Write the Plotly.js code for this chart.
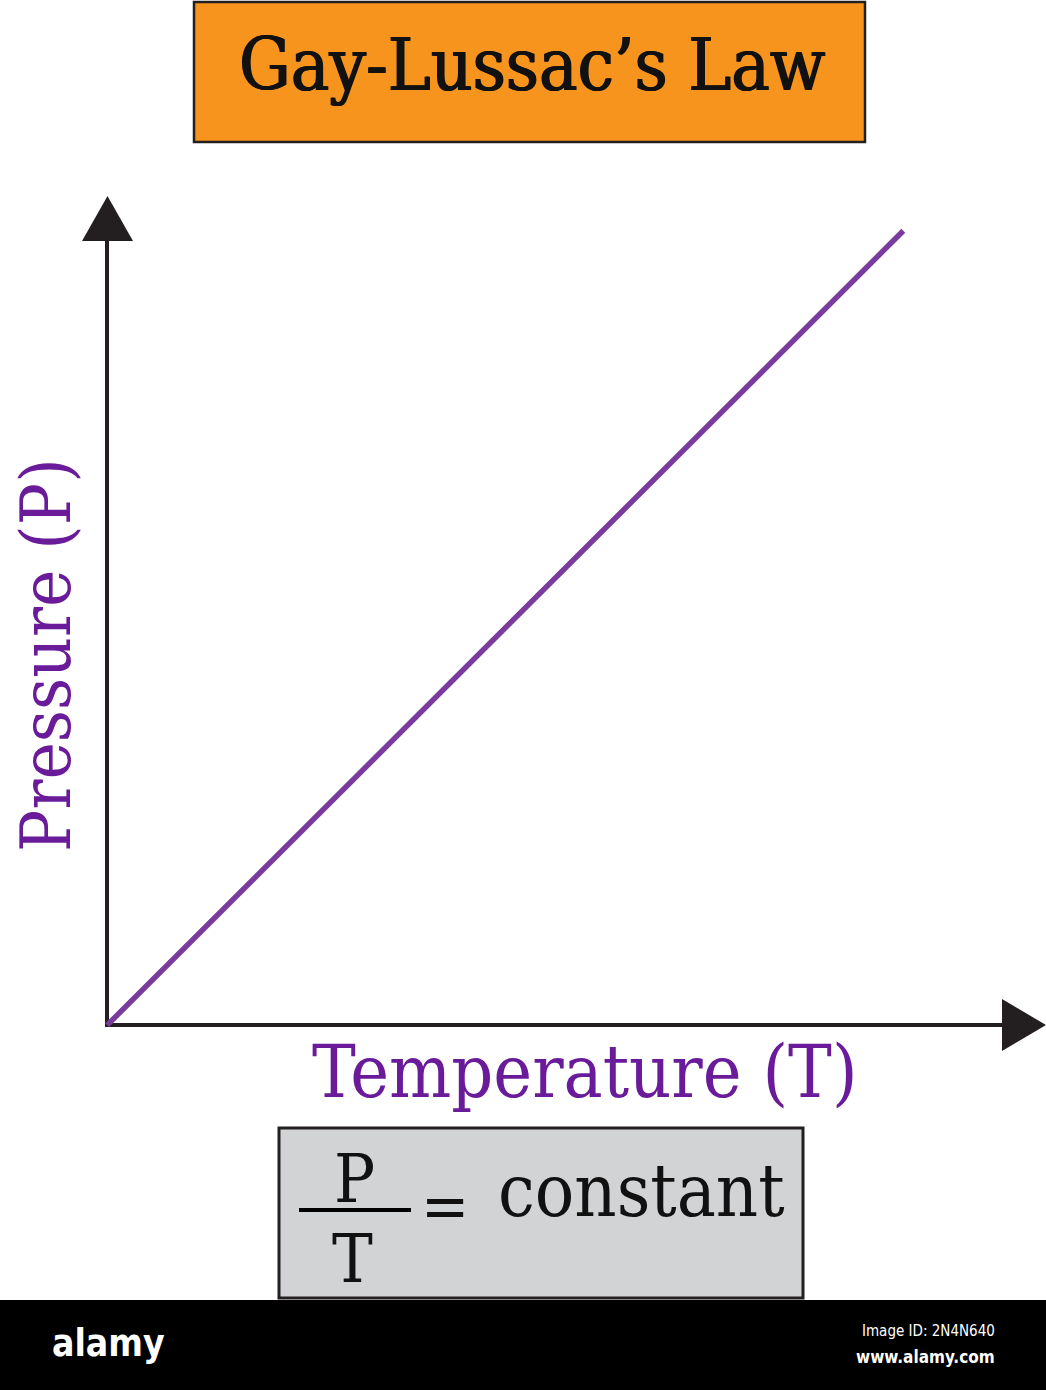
<!DOCTYPE html>
<html>
<head>
<meta charset="utf-8">
<script src="https://cdn.plot.ly/plotly-3.0.1.min.js"></script>
<style>html,body{margin:0;padding:0;background:#fff;}#chart{width:1046px;height:1390px;}</style>
</head>
<body>
<div id="chart"></div>
<script>
// Data
var temperature = [0, 8.48];
var pressure = [0, 9.58];
var titleText = "Gay-Lussac\u2019s Law";
var xLabel = "Temperature (T)";
var yLabel = "Pressure (P)";
var formulaNum = "P";
var formulaDen = "T";
var formulaRhs = "constant";

// Figure geometry (pixel -> paper helpers for decorations)
var FW = 1046, FH = 1390;
var L = 79, T = 196, B = 1050, R = 0;
var W = FW - L - R, H = B - T;
function X(px){ return (px - L) / W; }
function Y(py){ return (B - py) / H; }

var SERIF = "DejaVu Serif Condensed, DejaVu Serif, serif";
var PURPLE_TXT = "#6a1b9a";
var DARK = "#231f20";

var shapes = [
  // title box
  {type:"rect", xref:"paper", yref:"paper", x0:X(194), x1:X(865), y0:Y(142), y1:Y(2),
   fillcolor:"#f7941d", line:{color:DARK, width:2.5}, layer:"below"},
  // formula box
  {type:"rect", xref:"paper", yref:"paper", x0:X(279), x1:X(803), y0:Y(1298), y1:Y(1128),
   fillcolor:"#d1d3d4", line:{color:DARK, width:3}, layer:"below"},
  // y axis line
  {type:"line", xref:"paper", yref:"paper", x0:X(107), x1:X(107), y0:Y(1027), y1:Y(238),
   line:{color:DARK, width:4}, layer:"below"},
  // x axis line
  {type:"line", xref:"paper", yref:"paper", x0:X(105), x1:X(1004), y0:Y(1025), y1:Y(1025),
   line:{color:DARK, width:4}, layer:"below"},
  // y arrow head
  {type:"path", xref:"paper", yref:"paper",
   path:"M "+X(82)+","+Y(241)+" L "+X(107.5)+","+Y(196)+" L "+X(133)+","+Y(241)+" Z",
   fillcolor:DARK, line:{width:0}, layer:"below"},
  // x arrow head
  {type:"path", xref:"paper", yref:"paper",
   path:"M "+X(1002)+","+Y(999)+" L "+X(1046)+","+Y(1025)+" L "+X(1002)+","+Y(1051)+" Z",
   fillcolor:DARK, line:{width:0}, layer:"below"},
  // fraction bar
  {type:"line", xref:"paper", yref:"paper", x0:X(299), x1:X(411), y0:Y(1210), y1:Y(1210),
   line:{color:"#000", width:4}},
  // footer band
  {type:"rect", xref:"paper", yref:"paper", x0:X(0), x1:X(1046), y0:Y(1390), y1:Y(1300),
   fillcolor:"#000", line:{width:0}}
];

function ann(text, px, py, size, color, extra){
  var a = {text:text, xref:"paper", yref:"paper", x:X(px), y:Y(py), showarrow:false,
           xanchor:"center", yanchor:"middle", font:{family:SERIF, size:size, color:color}};
  if (extra) for (var k in extra) a[k] = extra[k];
  return a;
}

var annotations = [
  {text:titleText, xref:"paper", yref:"paper", x:X(532), y:Y(65), showarrow:false,
   xanchor:"center", yanchor:"middle",
   font:{family:SERIF, size:72, color:"#111", shadow:"0.8px 0 0 #111, -0.8px 0 0 #111"}},
  ann(xLabel, 585, 1071, 73, PURPLE_TXT),
  ann(yLabel, 46, 655, 70, PURPLE_TXT, {textangle:-90}),
  ann(formulaNum, 354, 1178, 68, "#111"),
  ann(formulaDen, 352, 1258, 68, "#111"),
  ann("=", 445, 1206, 64, "#111"),
  ann(formulaRhs, 641, 1190, 73, "#111"),
  {text:"<b>alamy</b>", xref:"paper", yref:"paper", x:X(50), y:Y(1343), showarrow:false,
   xanchor:"left", yanchor:"middle", font:{family:"DejaVu Sans Condensed, Liberation Sans Narrow, sans-serif", size:37, color:"#fff"}},
  {text:"Image ID: 2N4N640", xref:"paper", yref:"paper", x:X(997), y:Y(1331), showarrow:false,
   xanchor:"right", yanchor:"middle", font:{family:"DejaVu Sans Condensed, sans-serif", size:15, color:"#fff"}},
  {text:"<b>www.alamy.com</b>", xref:"paper", yref:"paper", x:X(997), y:Y(1357), showarrow:false,
   xanchor:"right", yanchor:"middle", font:{family:"DejaVu Sans Condensed, sans-serif", size:17, color:"#fff"}}
];

var trace = {
  x: temperature, y: pressure, type:"scatter", mode:"lines",
  line:{color:"#7a3b9e", width:5.5}, hoverinfo:"skip", cliponaxis:false
};

var layout = {
  width: FW, height: FH,
  margin:{l:L, r:R, t:T, b:FH - B, pad:0},
  paper_bgcolor:"#fff", plot_bgcolor:"rgba(0,0,0,0)",
  showlegend:false,
  xaxis:{range:[-0.3, 10], showgrid:false, zeroline:false, showline:false, showticklabels:false, ticks:"", fixedrange:true},
  yaxis:{range:[-0.3, 10], showgrid:false, zeroline:false, showline:false, showticklabels:false, ticks:"", fixedrange:true},
  shapes: shapes,
  annotations: annotations
};

Plotly.newPlot("chart", [trace], layout, {staticPlot:true, displayModeBar:false});
</script>
</body>
</html>
